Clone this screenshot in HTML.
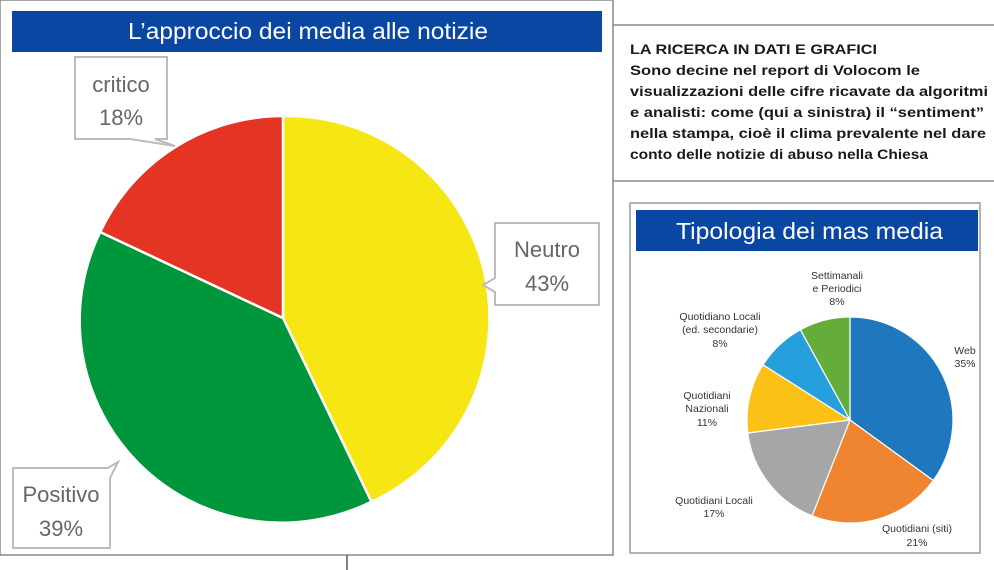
<!DOCTYPE html>
<html><head><meta charset="utf-8"><style>
body{margin:0;width:994px;height:570px;background:#fff;overflow:hidden;font-family:"Liberation Sans",sans-serif}
</style></head><body>
<svg width="994" height="570" xmlns="http://www.w3.org/2000/svg" style="position:absolute;left:0;top:0">
<rect x="0" y="0" width="613" height="555" fill="#fff" stroke="#888" stroke-width="1.5"/>
<line x1="347" y1="555" x2="347" y2="570" stroke="#555" stroke-width="1.5"/>
<line x1="613" y1="25" x2="994" y2="25" stroke="#888" stroke-width="1.5"/>
<line x1="613" y1="181" x2="994" y2="181" stroke="#888" stroke-width="1.5"/>
<rect x="12" y="11" width="590" height="41" fill="#0a47a3"/>
<text x="128" y="39" fill="#fff" font-size="23" textLength="360" lengthAdjust="spacingAndGlyphs">L’approccio dei media alle notizie</text>
<g stroke="#fff" stroke-width="2.5">
<path d="M283,318 L283,116 A202,202 0 0 1 371.4,501.7 Z" fill="#f5e614"/>
<path d="M283,318 L371.4,501.7 A202,202 0 0 1 100.2,232 Z" fill="#00963c"/>
<path d="M283,318 L100.2,232 A202,202 0 0 1 283,116 Z" fill="#e33424"/>
</g>
<g fill="#fff" stroke="#bbb" stroke-width="2">
<path d="M75,57 H167 V139 H155 L175,146 L130,139 H75 Z"/>
<path d="M495,223 H599 V305 H495 V292 L483,285 L495,278 Z"/>
<path d="M13,468 H108 L118,462 L110,478 V548 H13 Z"/>
</g>
<g fill="#666" font-size="22" text-anchor="middle">
<text x="121" y="92">critico</text><text x="121" y="125">18%</text>
<text x="547" y="257">Neutro</text><text x="547" y="291">43%</text>
<text x="61" y="502">Positivo</text><text x="61" y="536">39%</text>
</g>
<g fill="#1a1a1a" font-size="14" font-weight="bold" lengthAdjust="spacingAndGlyphs">
<text x="630" y="54" textLength="247" lengthAdjust="spacingAndGlyphs">LA RICERCA IN DATI E GRAFICI</text>
<text x="630" y="75" textLength="290" lengthAdjust="spacingAndGlyphs">Sono decine nel report di Volocom le</text>
<text x="630" y="96" textLength="358" lengthAdjust="spacingAndGlyphs">visualizzazioni delle cifre ricavate da algoritmi</text>
<text x="630" y="117" textLength="354" lengthAdjust="spacingAndGlyphs">e analisti: come (qui a sinistra) il “sentiment”</text>
<text x="630" y="138" textLength="356" lengthAdjust="spacingAndGlyphs">nella stampa, cioè il clima prevalente nel dare</text>
<text x="630" y="159" textLength="298" lengthAdjust="spacingAndGlyphs">conto delle notizie di abuso nella Chiesa</text>
</g>
<rect x="630" y="203" width="350" height="350" fill="#fff" stroke="#999" stroke-width="1.5"/>
<rect x="636" y="210" width="342" height="41" fill="#0a47a3"/>
<text x="676" y="239" fill="#fff" font-size="23" textLength="267" lengthAdjust="spacingAndGlyphs">Tipologia dei mas media</text>
<g stroke="#fff" stroke-width="1.2">
<path d="M850,420 L850,317 A103,103 0 0 1 933.3,480.5 Z" fill="#1f78bd"/>
<path d="M850,420 L933.3,480.5 A103,103 0 0 1 812.1,515.8 Z" fill="#ef8530"/>
<path d="M850,420 L812.1,515.8 A103,103 0 0 1 747.8,432.9 Z" fill="#a6a6a6"/>
<path d="M850,420 L747.8,432.9 A103,103 0 0 1 763,364.8 Z" fill="#fbc116"/>
<path d="M850,420 L763,364.8 A103,103 0 0 1 800.4,329.7 Z" fill="#26a0dc"/>
<path d="M850,420 L800.4,329.7 A103,103 0 0 1 850,317 Z" fill="#64ad3a"/>
</g>
<g fill="#333" font-size="10.5" text-anchor="middle">
<text x="837" y="279">Settimanali</text><text x="837" y="292">e Periodici</text><text x="837" y="305">8%</text>
<text x="720" y="320">Quotidiano Locali</text><text x="720" y="333">(ed. secondarie)</text><text x="720" y="347">8%</text>
<text x="965" y="354">Web</text><text x="965" y="367">35%</text>
<text x="707" y="399">Quotidiani</text><text x="707" y="412">Nazionali</text><text x="707" y="426">11%</text>
<text x="714" y="504">Quotidiani Locali</text><text x="714" y="517">17%</text>
<text x="917" y="532">Quotidiani (siti)</text><text x="917" y="546">21%</text>
</g>
</svg>
</body></html>
